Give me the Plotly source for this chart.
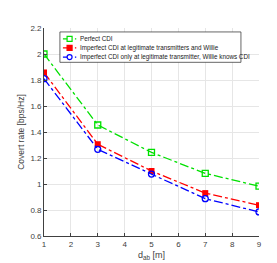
import plotly.graph_objects as go

d_ab = [1, 3, 5, 7, 9]
perfect = [2.0, 1.454, 1.243, 1.082, 0.983]
imperfect_both = [1.858, 1.306, 1.100, 0.930, 0.837]
imperfect_tx = [1.810, 1.267, 1.076, 0.887, 0.785]
names = ["Perfect CDI",
         "Imperfect CDI at legitimate transmitters and Willie",
         "Imperfect CDI only at legitimate transmitter, Willie knows CDI"]
colors = ["#00e000", "#ff0000", "#0000ff"]
x_ticks = [1, 2, 3, 4, 5, 6, 7, 8, 9]
y_ticks = [0.6, 0.8, 1.0, 1.2, 1.4, 1.6, 1.8, 2.0, 2.2]
y_tick_text = ["0.6", "0.8", "1", "1.2", "1.4", "1.6", "1.8", "2", "2.2"]

fig = go.Figure()
fig.add_trace(go.Scatter(x=d_ab, y=perfect, name=names[0], mode="lines+markers",
                         line=dict(color=colors[0], width=1.3, dash="dashdot"),
                         marker=dict(symbol="square-open", size=6, color=colors[0], line=dict(width=1.3))))
fig.add_trace(go.Scatter(x=d_ab, y=imperfect_both, name=names[1], mode="lines+markers",
                         line=dict(color=colors[1], width=1.3, dash="dashdot"),
                         marker=dict(symbol="square", size=6, color=colors[1])))
fig.add_trace(go.Scatter(x=d_ab, y=imperfect_tx, name=names[2], mode="lines+markers",
                         line=dict(color=colors[2], width=1.3, dash="dashdot"),
                         marker=dict(symbol="circle-open", size=6, color=colors[2], line=dict(width=1.3))))

# custom compact legend (MATLAB style)
shapes = [dict(type="rect", xref="paper", yref="paper", x0=0.074, x1=0.916, y0=0.835, y1=0.981,
               line=dict(color="#404040", width=0.8), fillcolor="white", layer="above")]
annotations = []
rows = [0.948, 0.904, 0.860]
marker_kinds = ["open-square", "filled-square", "open-circle"]
for name, col, yy, kind in zip(names, colors, rows, marker_kinds):
    shapes.append(dict(type="line", xref="paper", yref="paper", x0=0.088, x1=0.150, y0=yy, y1=yy,
                       line=dict(color=col, width=1.2, dash="dashdot"), layer="above"))
    stype = "circle" if kind == "open-circle" else "rect"
    fill = col if kind == "filled-square" else "white"
    shapes.append(dict(type=stype, xref="paper", yref="paper", xsizemode="pixel", ysizemode="pixel",
                       xanchor=0.119, yanchor=yy, x0=-2.5, x1=2.5, y0=-2.5, y1=2.5,
                       line=dict(color=col, width=1.2), fillcolor=fill, layer="above"))
    annotations.append(dict(text=name, xref="paper", yref="paper", x=0.160, y=yy,
                            xanchor="left", yanchor="middle", showarrow=False,
                            font=dict(size=6.3, color="#202020")))

fig.update_layout(
    width=277, height=263,
    margin=dict(l=36, r=26, t=20, b=31),
    paper_bgcolor="white", plot_bgcolor="white",
    font=dict(family="Liberation Sans, Arial", size=8, color="#404040"),
    showlegend=False,
    shapes=shapes, annotations=annotations,
)
fig.update_xaxes(range=[1, 9], tickvals=x_ticks, showgrid=True, gridcolor="#e6e6e6",
                 showline=True, linecolor="#404040", linewidth=0.8, mirror=False,
                 ticks="inside", ticklen=3, tickcolor="#404040",
                 title=dict(text="d<sub>ab</sub> [m]", font=dict(size=9), standoff=4),
                 zeroline=False)
fig.update_yaxes(range=[0.6, 2.2], tickvals=y_ticks, ticktext=y_tick_text, showgrid=True,
                 gridcolor="#e6e6e6", showline=True, linecolor="#404040", linewidth=0.8,
                 ticks="inside", ticklen=3, tickcolor="#404040",
                 title=dict(text="Covert rate [bps/Hz]", font=dict(size=8.5), standoff=4),
                 zeroline=False)

fig.write_html("out.html")
